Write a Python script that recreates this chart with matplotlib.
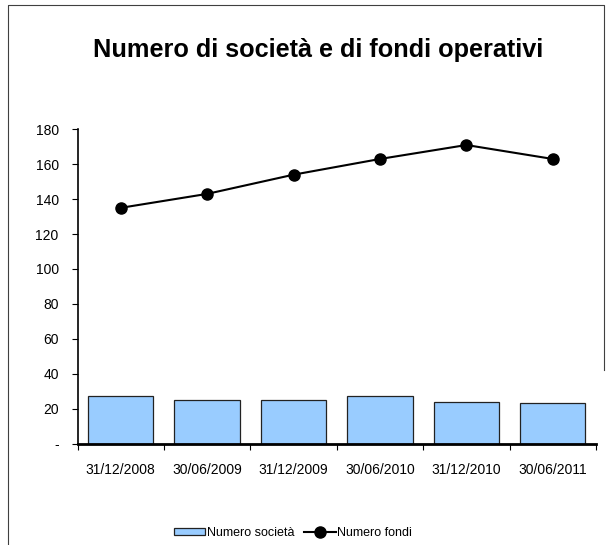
import numpy as np
import matplotlib
matplotlib.use("Agg")
from matplotlib import pyplot as plt
from matplotlib.lines import Line2D

plt.rcParams['font.family'] = ['Liberation Sans', 'DejaVu Sans']

dates = ['31/12/2008', '30/06/2009', '31/12/2009', '30/06/2010', '31/12/2010', '30/06/2011']
num_societa = [27, 25, 25, 27, 24, 23]
num_fondi = [135, 143, 154, 163, 171, 163]

W, H = 613, 545
fig = plt.figure(figsize=(W / 100, H / 100), dpi=100)

# outer frame of the chart area: left and top, right side stops part way
frame_x = [8 / W, 8 / W, 604 / W, 604 / W]
frame_y = [0, 1 - 5 / H, 1 - 5 / H, 1 - 370 / H]
fig.lines.append(Line2D(frame_x, frame_y, transform=fig.transFigure,
                        color='#404040', linewidth=0.8))

ax = fig.add_axes([77.5 / W, 1 - 443.5 / H, (596 - 77.5) / W, (443.5 - 129.3) / H])
x = np.arange(len(dates))
bars = ax.bar(x, num_societa, width=0.756, color='#99CCFF', edgecolor='#222222',
              linewidth=0.9, label='Numero società', zorder=2)
line, = ax.plot(x, num_fondi, color='black', linewidth=1.5, marker='o', markersize=8,
                label='Numero fondi', zorder=3)

ax.set_xlim(-0.5, len(dates) - 0.5)
ax.set_ylim(0, 180)
ax.set_yticks(range(0, 181, 20))
ax.set_yticklabels(['-'] + [str(v) for v in range(20, 181, 20)], fontsize=10)
ax.set_xticks(x)
ax.set_xticklabels(dates, fontsize=10)
ax.tick_params(axis='x', length=0, pad=14)
ax.set_xticks(np.arange(-0.5, len(dates)), minor=True)
ax.tick_params(axis='x', which='minor', length=4, direction='out', width=0.8)
ax.tick_params(axis='y', length=4, direction='out', width=0.8, pad=9.5)

for s in ['top', 'right']:
    ax.spines[s].set_visible(False)
ax.spines['left'].set_linewidth(1.2)
ax.spines['bottom'].set_linewidth(2)

fig.text(318 / W, 1 - 50 / H, 'Numero di società e di fondi operativi',
         ha='center', va='center', fontsize=18.2, fontweight='bold')

fig.legend([bars, line], ['Numero società', 'Numero fondi'],
           loc='center', bbox_to_anchor=(293 / W, 1 - 533 / H), ncol=2,
           frameon=False, fontsize=9, handlelength=2.5, handleheight=0.4,
           columnspacing=0.8, handletextpad=0.15)

fig.savefig('out.png', dpi=100)
